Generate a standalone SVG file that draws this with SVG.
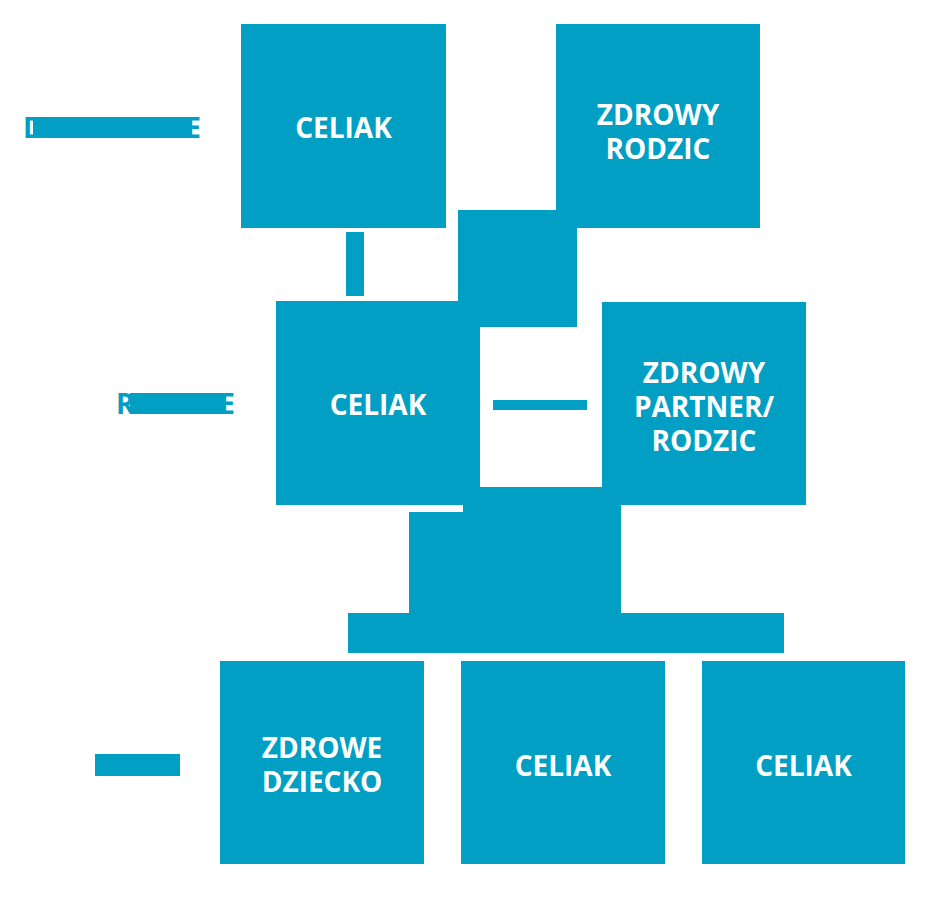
<svg xmlns="http://www.w3.org/2000/svg" width="933" height="900" viewBox="0 0 933 900">
<style>
.b{fill:#019fc3}
.t{font-family:"Open Sans","Liberation Sans",sans-serif;font-weight:bold;font-size:28px;fill:#ffffff;text-anchor:middle}
.l{font-family:"Open Sans","Liberation Sans",sans-serif;font-weight:bold;font-size:28px;fill:#019fc3}
</style>
<rect width="933" height="900" fill="#ffffff"/>
<g id="labels">
<text class="l" x="23" y="138">D</text>
<text class="l" x="201" y="138" text-anchor="end">E</text>
<rect class="b" x="33" y="117" width="158" height="21"/>
<text class="l" x="116" y="414">R</text>
<text class="l" x="235" y="414" text-anchor="end">E</text>
<rect class="b" x="130" y="393" width="95" height="21"/>
<rect class="b" x="95" y="754" width="85" height="22"/>
</g>
<g id="connectors">
<rect class="b" x="346" y="232" width="18" height="64"/>
<rect class="b" x="458" y="210" width="119" height="117"/>
<rect class="b" x="493" y="400" width="94" height="10"/>
<rect class="b" x="463" y="487" width="158" height="30"/>
<rect class="b" x="409" y="512" width="212" height="102"/>
<rect class="b" x="348" y="613" width="436" height="40"/>
</g>
<g id="gp1">
<rect class="b" x="241" y="24" width="205" height="204"/>
<text class="t" x="343.5" y="138">CELIAK</text>
</g>
<g id="gp2">
<rect class="b" x="556" y="24" width="204" height="204"/>
<text class="t" x="658" y="125">ZDROWY</text>
<text class="t" x="658" y="159">RODZIC</text>
</g>
<g id="p1">
<rect class="b" x="276" y="301" width="204" height="204"/>
<text class="t" x="378" y="415">CELIAK</text>
</g>
<g id="p2">
<rect class="b" x="602" y="302" width="204" height="203"/>
<text class="t" x="704" y="383">ZDROWY</text>
<text class="t" x="704" y="417">PARTNER/</text>
<text class="t" x="704" y="451">RODZIC</text>
</g>
<g id="c1">
<rect class="b" x="220" y="661" width="204" height="203"/>
<text class="t" x="322" y="758">ZDROWE</text>
<text class="t" x="322" y="792">DZIECKO</text>
</g>
<g id="c2">
<rect class="b" x="461" y="661" width="204" height="203"/>
<text class="t" x="563" y="776">CELIAK</text>
</g>
<g id="c3">
<rect class="b" x="702" y="661" width="203" height="203"/>
<text class="t" x="803.5" y="776">CELIAK</text>
</g>
</svg>
